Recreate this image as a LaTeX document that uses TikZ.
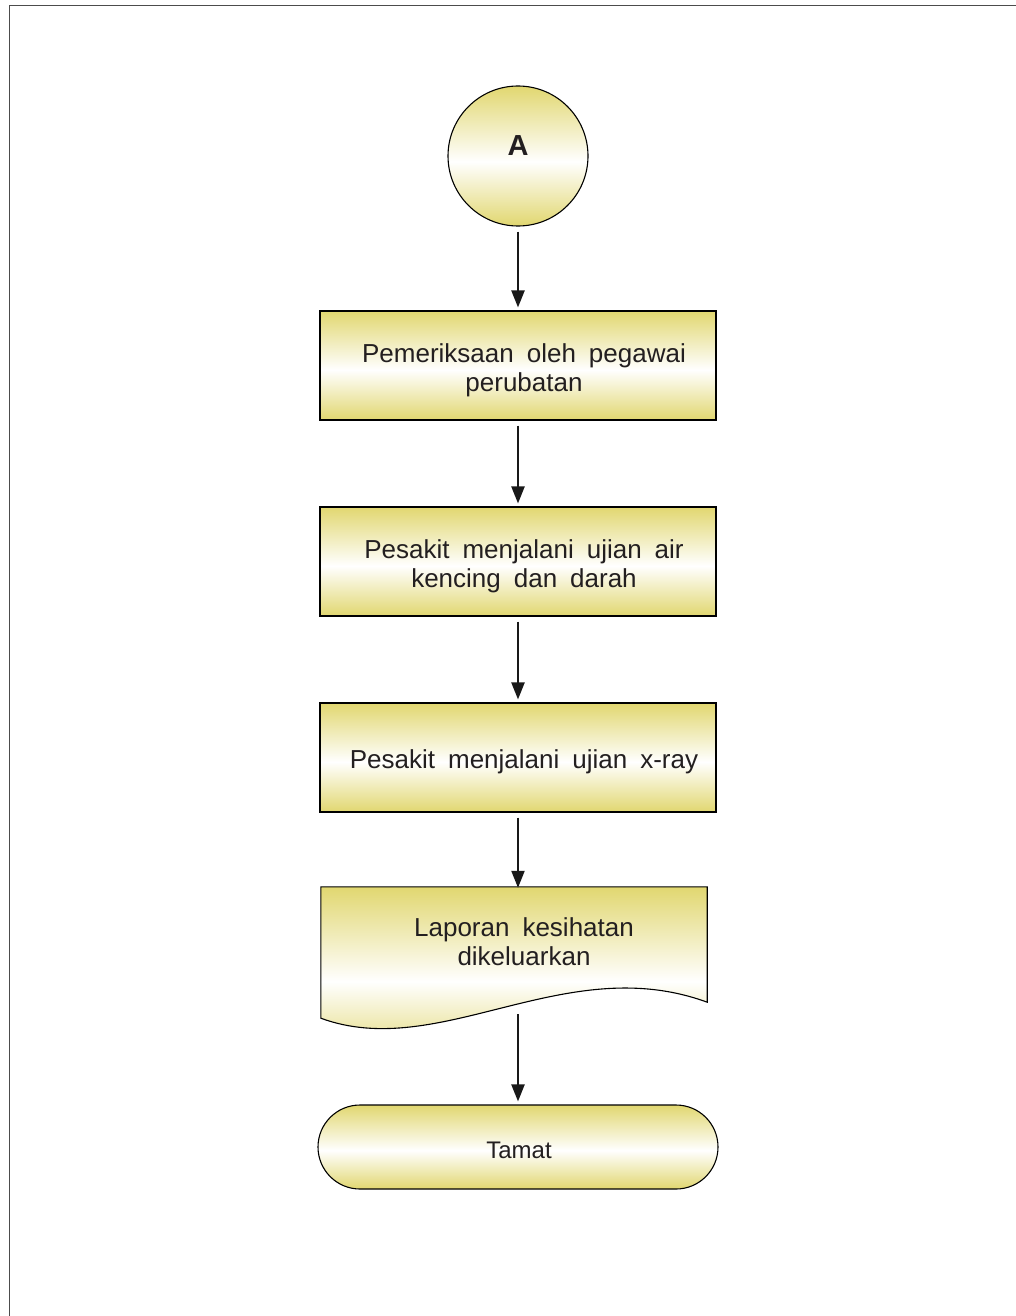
\documentclass[tikz,border=0pt]{standalone}
\usepackage{fontspec}
\setmainfont[WordSpace=1.8]{Liberation Sans}
\usetikzlibrary{arrows.meta,backgrounds}
\definecolor{ylw}{RGB}{225,215,112}
\definecolor{txt}{RGB}{35,31,32}
\pgfdeclareverticalshading{yshade}{100bp}{color(0bp)=(ylw); color(25bp)=(ylw); color(48bp)=(white); color(75bp)=(ylw); color(100bp)=(ylw)}
\begin{document}
\begin{tikzpicture}[x=1pt,y=-1pt,
  outl/.style={draw=black, line width=1.1pt, shading=yshade},
  box/.style={outl, minimum width=396pt, minimum height=109pt, inner sep=0pt},
  lbl/.style={align=center, text=txt, inner sep=0pt, font=\fontsize{26}{29}\selectfont},
  conn/.style={draw=black!90, line width=2.2pt, -{Triangle[width=13pt,length=17pt]}, shorten <=5pt, shorten >=3pt},
  frame/.style={draw=black!70, line width=1.6pt}]
\useasboundingbox (0,0) rectangle (1016,1316);
\draw[frame] (9.5,1316) -- (9.5,5.5) -- (1016,5.5);

\node[outl, circle, minimum size=140pt, inner sep=0pt, text=txt, font=\fontsize{29}{29}\selectfont\bfseries, text depth=20pt] (A) at (518,156) {A};
\node[box] (b1) at (518,365.5) {};
\node[lbl] (b1t) at (524,370) {Pemeriksaan oleh pegawai\\perubatan};
\node[box] (b2) at (518,561.5) {};
\node[lbl] (b2t) at (524,566) {Pesakit menjalani ujian air\\kencing dan darah};
\node[box] (b3) at (518,757.5) {};
\node[lbl] (b3t) at (524,762) {Pesakit menjalani ujian x-ray};
\node[minimum width=386pt, minimum height=115pt, inner sep=0pt] (doc) at (514,944.5) {};
\node[lbl] (doct) at (524,942) {Laporan kesihatan\\dikeluarkan};
\begin{pgfonlayer}{background}
\path[outl] (doc.north west) -- (doc.north east) -- (doc.south east)
  .. controls (565,950) and (440,1062) .. ([yshift=-16pt]doc.south west) -- cycle;
\end{pgfonlayer}
\coordinate (docout) at (518,1014);
\node[outl, minimum width=400pt, minimum height=84pt, rounded corners=42pt, inner sep=0pt] (term) at (518,1147) {};
\node[lbl, font=\fontsize{24}{29}\selectfont] (termt) at (519,1150) {Tamat};

\draw[conn] (A) -- (b1);
\draw[conn] (b1) -- (b2);
\draw[conn] (b2) -- (b3);
\draw[conn, shorten >=-1pt] (b3.south) -- (b3.south |- doc.north);
\draw[conn, shorten <=0pt] (docout) -- (term.north);
\end{tikzpicture}
\end{document}
